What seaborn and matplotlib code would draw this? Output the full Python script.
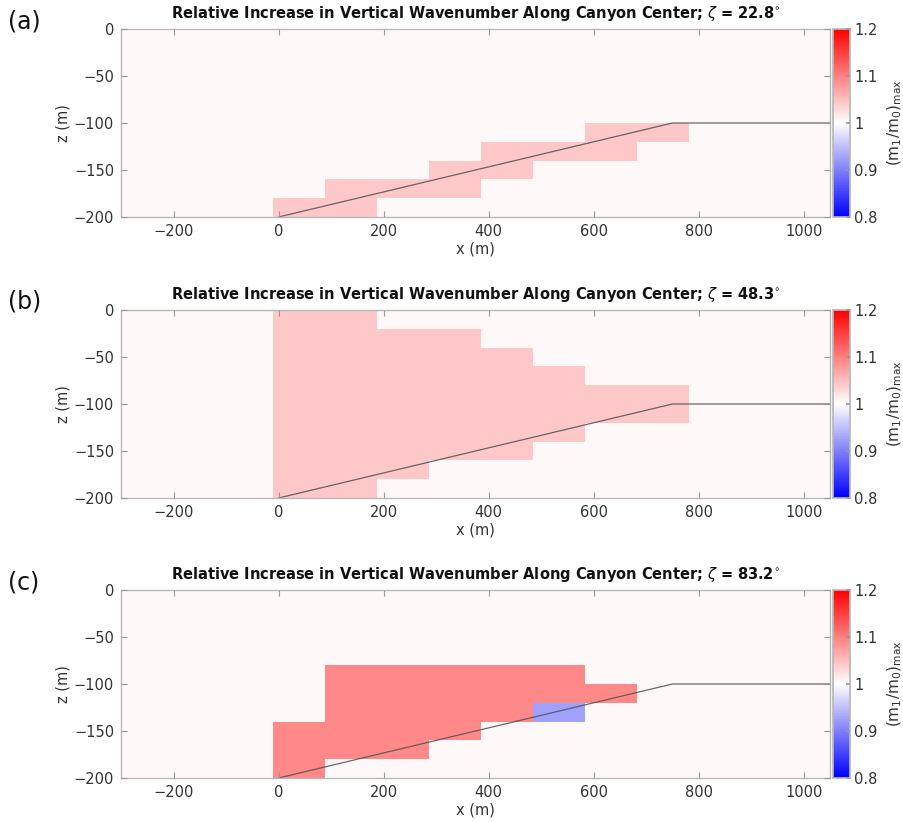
import numpy as np
import pandas as pd
import matplotlib
matplotlib.use("Agg")
import matplotlib.pyplot as plt
from matplotlib.colors import LinearSegmentedColormap
import seaborn as sns

# ---- grid and data -------------------------------------------------------
# along-canyon cell edges (m) and depth cell edges (m)
x_edges = [-307, -208, -109, -10, 89, 188, 287, 386, 485, 584, 683, 782, 881, 980, 1079]
z_edges = [-200, -180, -160, -140, -120, -100, -80, -60, -40, -20, 0]

zeta_values = [22.8, 48.3, 83.2]
panel_tags = ["(a)", "(b)", "(c)"]

background_ratio = 1.006   # weak response everywhere else
pink_ratio = 1.043
red_ratio = 1.093
blue_ratio = 0.925

# enhanced cells: (top of cell z, left edge x, ratio)
cells_a = [
    (-100, 584, pink_ratio), (-100, 683, pink_ratio),
    (-120, 386, pink_ratio), (-120, 485, pink_ratio), (-120, 584, pink_ratio),
    (-140, 287, pink_ratio), (-140, 386, pink_ratio),
    (-160, 89, pink_ratio), (-160, 188, pink_ratio), (-160, 287, pink_ratio),
    (-180, -10, pink_ratio), (-180, 89, pink_ratio),
]

row_extent_b = {0: 188, -20: 386, -40: 485, -60: 584, -80: 782,
                -100: 782, -120: 584, -140: 485, -160: 287, -180: 188}
cells_b = [(z, x, pink_ratio) for z, xmax in row_extent_b.items()
           for x in x_edges[:-1] if -10 <= x < xmax]

cells_c = [
    (-80, 89, red_ratio), (-80, 188, red_ratio), (-80, 287, red_ratio),
    (-80, 386, red_ratio), (-80, 485, red_ratio),
    (-100, 89, red_ratio), (-100, 188, red_ratio), (-100, 287, red_ratio),
    (-100, 386, red_ratio), (-100, 485, red_ratio), (-100, 584, red_ratio),
    (-120, 89, red_ratio), (-120, 188, red_ratio), (-120, 287, red_ratio),
    (-120, 386, red_ratio), (-120, 485, blue_ratio),
    (-140, -10, red_ratio), (-140, 89, red_ratio), (-140, 188, red_ratio),
    (-140, 287, red_ratio),
    (-160, -10, red_ratio), (-160, 89, red_ratio), (-160, 188, red_ratio),
    (-180, -10, red_ratio),
]
panel_cells = [cells_a, cells_b, cells_c]

# canyon floor profile along the centre line
floor_x = [0, 750, 1050]
floor_z = [-200, -100, -100]

# ---- build one table per panel (one sample per cell, weighted) -----------
def panel_frame(cells):
    lookup = {(z, x): v for z, x, v in cells}
    rows = []
    for i in range(len(x_edges) - 1):
        for j in range(len(z_edges) - 1):
            x0, x1 = x_edges[i], x_edges[i + 1]
            z0, z1 = z_edges[j], z_edges[j + 1]
            val = lookup.get((z1, x0), background_ratio)
            rows.append({"x": 0.5 * (x0 + x1), "z": 0.5 * (z0 + z1), "ratio": val})
    return pd.DataFrame(rows)

# ---- style ---------------------------------------------------------------
sns.set_theme(style="ticks")
plt.rcParams["font.family"] = ["DejaVu Sans"]
plt.rcParams["axes.edgecolor"] = "#b8b8b8"
plt.rcParams["axes.axisbelow"] = False
plt.rcParams["xtick.color"] = "#999999"
plt.rcParams["ytick.color"] = "#999999"
plt.rcParams["xtick.labelcolor"] = "#333333"
plt.rcParams["ytick.labelcolor"] = "#333333"

cmap = LinearSegmentedColormap.from_list("bwr_lin", ["#0000ff", "#ffffff", "#ff0000"])

fig = plt.figure(figsize=(9.04, 8.22), dpi=100)
W, H = 904, 822
ax_left, ax_right = 121, 830
tops = [29, 310, 590]
ax_h = 188

for k in range(3):
    top = tops[k]
    ax = fig.add_axes([ax_left / W, 1 - (top + ax_h) / H,
                       (ax_right - ax_left) / W, ax_h / H])
    cax = fig.add_axes([833 / W, 1 - (top + ax_h) / H, 17 / W, ax_h / H])

    df = panel_frame(panel_cells[k])
    sns.histplot(data=df, x="x", y="z", weights="ratio",
                 bins=(x_edges, z_edges), thresh=None,
                 cmap=cmap, vmin=0.8, vmax=1.2, cbar=False, ax=ax)

    sns.lineplot(x=floor_x, y=floor_z, ax=ax, color="#505050",
                 linewidth=0.9, alpha=0.85, sort=False)

    ax.set_axisbelow(False)
    ax.set_xlim(-300, 1050)
    ax.set_ylim(-200, 0)
    ax.set_xticks([-200, 0, 200, 400, 600, 800, 1000])
    ax.set_yticks([0, -50, -100, -150, -200])
    ax.tick_params(direction="in", length=4, width=0.8, labelsize=10.5,
                   top=True, right=True, pad=5)
    for s in ax.spines.values():
        s.set_linewidth(1.0)
    ax.set_xlabel("x (m)", fontsize=10.5, color="#333333", labelpad=2)
    ax.set_ylabel("z (m)", fontsize=10.5, color="#333333", labelpad=2)
    ax.set_title(r"Relative Increase in Vertical Wavenumber Along Canyon Center; "
                 r"$\zeta$ = %.1f$^{\circ}$" % zeta_values[k],
                 fontsize=10.5, fontweight="bold", color="#111111", pad=8)
    fig.text(8 / W, 1 - (top - 8) / H, panel_tags[k], fontsize=17,
             color="#111111", va="center", ha="left")

    mesh = ax.collections[0]
    cb = fig.colorbar(mesh, cax=cax, ticks=[0.8, 0.9, 1.0, 1.1, 1.2])
    cb.ax.set_yticklabels(["0.8", "0.9", "1", "1.1", "1.2"])
    cb.ax.tick_params(direction="in", length=3, labelsize=10.5, colors="#999999",
                      labelcolor="#333333", pad=3)
    cb.outline.set_edgecolor("#b8b8b8")
    cb.set_label(r"$(\mathrm{m}_1/\mathrm{m}_0)_{\mathrm{max}}$", fontsize=11,
                 color="#333333", labelpad=6)

fig.savefig("out.png", dpi=100)
